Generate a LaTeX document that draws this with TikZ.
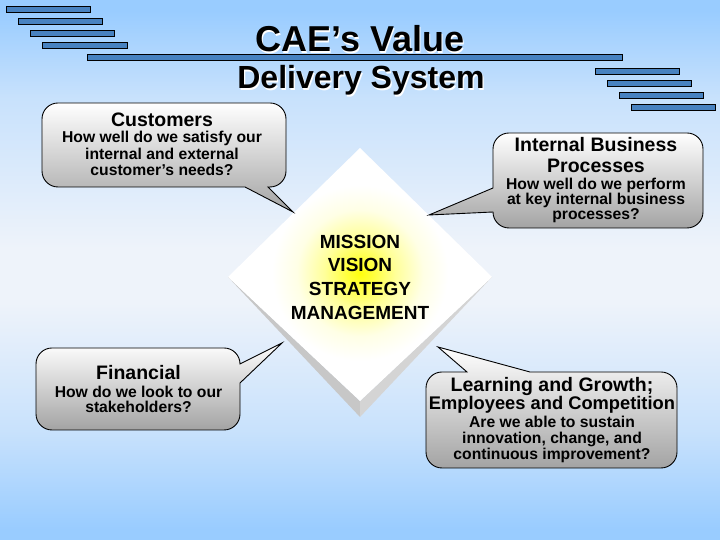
\documentclass[tikz,border=0pt]{standalone}
\usepackage{fontspec}
\setmainfont{Liberation Sans}
\definecolor{bgblue}{RGB}{153,204,255}
\definecolor{bgmid}{RGB}{238,243,250}
\definecolor{barblue}{RGB}{72,130,192}
\pgfdeclareverticalshading{bgshade}{100bp}{color(0bp)=(bgblue); color(26bp)=(bgblue); color(35bp)=(bgblue!45!bgmid); color(47bp)=(bgmid); color(52bp)=(bgmid); color(66bp)=(bgblue!45!bgmid); color(74bp)=(bgblue); color(100bp)=(bgblue)}
\pgfdeclareradialshading{glow}{\pgfpoint{0bp}{0bp}}{color(0bp)=(yellow!95!white); color(4bp)=(yellow!75!white); color(10bp)=(yellow!40!white); color(18bp)=(yellow!10!white); color(25bp)=(white); color(50bp)=(white)}
\tikzset{
  bar/.style={draw=black, line width=0.8pt, fill=barblue},
  callout/.style={draw=black, line width=0.9pt, top color=white, bottom color=black!36},
  hdr/.style={font=\fontsize{19.5}{20}\selectfont\bfseries, anchor=base, inner sep=0pt},
  bdy/.style={font=\fontsize{15.7}{16}\selectfont\bfseries, anchor=base, inner sep=0pt},
  dtxt/.style={font=\fontsize{19}{20}\selectfont\bfseries, anchor=base, inner sep=0pt},
  ttl/.style={anchor=base, inner sep=0pt},
}
\begin{document}
\begin{tikzpicture}[x=1pt,y=1pt]
\useasboundingbox (0,0) rectangle (720,540);
% background
\path[shading=bgshade] (0,0) rectangle (720,540);
% bars
\draw[bar] (6,534) rectangle (90,528);
\draw[bar] (18,522) rectangle (102,516);
\draw[bar] (30,510) rectangle (114,504);
\draw[bar] (42,498) rectangle (127,492);
\draw[bar] (87,486) rectangle (622,480);
\draw[bar] (595,472) rectangle (679,466);
\draw[bar] (607,460) rectangle (691,454);
\draw[bar] (619,448) rectangle (703,442);
\draw[bar] (631,436) rectangle (715,430);
% title
\node[ttl, white, font=\fontsize{36}{38}\selectfont\bfseries] at (361.2,486.8) {CAE’s Value};
\node[ttl, font=\fontsize{36}{38}\selectfont\bfseries] (title1) at (360,488) {CAE’s Value};
\node[ttl, white, font=\fontsize{32}{34}\selectfont\bfseries] at (362.2,449.8) {Delivery System};
\node[ttl, font=\fontsize{32}{34}\selectfont\bfseries] (title2) at (361,451) {Delivery System};
% diamond
\fill[black!22] (228,263) -- (360,123) -- (360,139) -- cycle;
\fill[black!17] (492,263) -- (360,123) -- (360,139) -- cycle;
\fill[white] (360,392) -- (228,263) -- (360,139) -- (492,263) -- cycle;
\begin{scope}
  \clip (360,392) -- (228,263) -- (360,139) -- (492,263) -- cycle;
  \path[shading=glow] (360,267) circle (88);
\end{scope}
\node[dtxt] (mission) at (360,291.7) {MISSION};
\node[dtxt] (vision) at (360,268.3) {VISION};
\node[dtxt] (strategy) at (360,244.3) {STRATEGY};
\node[dtxt] (management) at (360,220) {MANAGEMENT};
% Customers callout
\path[callout] (58,437) -- (270,437) arc[start angle=90,end angle=0,radius=16]
  -- (286,369) arc[start angle=0,end angle=-90,radius=16]
  -- (268,353) -- (293,328) -- (245,353) -- (58,353)
  arc[start angle=270,end angle=180,radius=16] -- (42,421)
  arc[start angle=180,end angle=90,radius=16] -- cycle;
\node[hdr] (cust) at (162,413) {Customers};
\node[bdy] (cust1) at (162,397) {How well do we satisfy our};
\node[bdy] (cust2) at (162,380.5) {internal and external};
\node[bdy] (cust3) at (162,364) {customer’s needs?};
% Internal callout
\path[callout] (509,407) -- (687,407) arc[start angle=90,end angle=0,radius=16]
  -- (703,328) arc[start angle=0,end angle=-90,radius=16]
  -- (509,312) arc[start angle=270,end angle=180,radius=16]
  -- (429,325) -- (493,352) -- (493,391)
  arc[start angle=180,end angle=90,radius=16] -- cycle;
\node[hdr] (ibp) at (596,388.3) {Internal Business};
\node[hdr] (ibp2) at (596,367.3) {Processes};
\node[bdy] (ibp3) at (596,350.7) {How well do we perform};
\node[bdy] (ibp4) at (596,335) {at key internal business};
\node[bdy] (ibp5) at (596,320) {processes?};
% Financial callout
\path[callout] (52,192) -- (224,192) arc[start angle=90,end angle=0,radius=16]
  -- (282,197) -- (240,157) -- (240,126)
  arc[start angle=0,end angle=-90,radius=16] -- (52,110)
  arc[start angle=270,end angle=180,radius=16] -- (36,176)
  arc[start angle=180,end angle=90,radius=16] -- cycle;
\node[hdr] (fin) at (138.5,160.7) {Financial};
\node[bdy] (fin1) at (138.5,142.7) {How do we look to our};
\node[bdy] (fin2) at (138.5,127.7) {stakeholders?};
% Learning callout
\path[callout] (442,168) -- (467,168) -- (438,193) -- (530,168) -- (661,168)
  arc[start angle=90,end angle=0,radius=16] -- (677,88)
  arc[start angle=0,end angle=-90,radius=16] -- (442,72)
  arc[start angle=270,end angle=180,radius=16] -- (426,152)
  arc[start angle=180,end angle=90,radius=16] -- cycle;
\node[hdr] (learn) at (552,148.3) {Learning and Growth;};
\node[hdr, font=\fontsize{18.3}{20}\selectfont\bfseries] (learn2) at (552,130) {Employees and Competition};
\node[bdy] (learn3) at (552,112.7) {Are we able to sustain};
\node[bdy] (learn4) at (552,96.7) {innovation, change, and};
\node[bdy] (learn5) at (552,80.7) {continuous improvement?};
\end{tikzpicture}
\end{document}
